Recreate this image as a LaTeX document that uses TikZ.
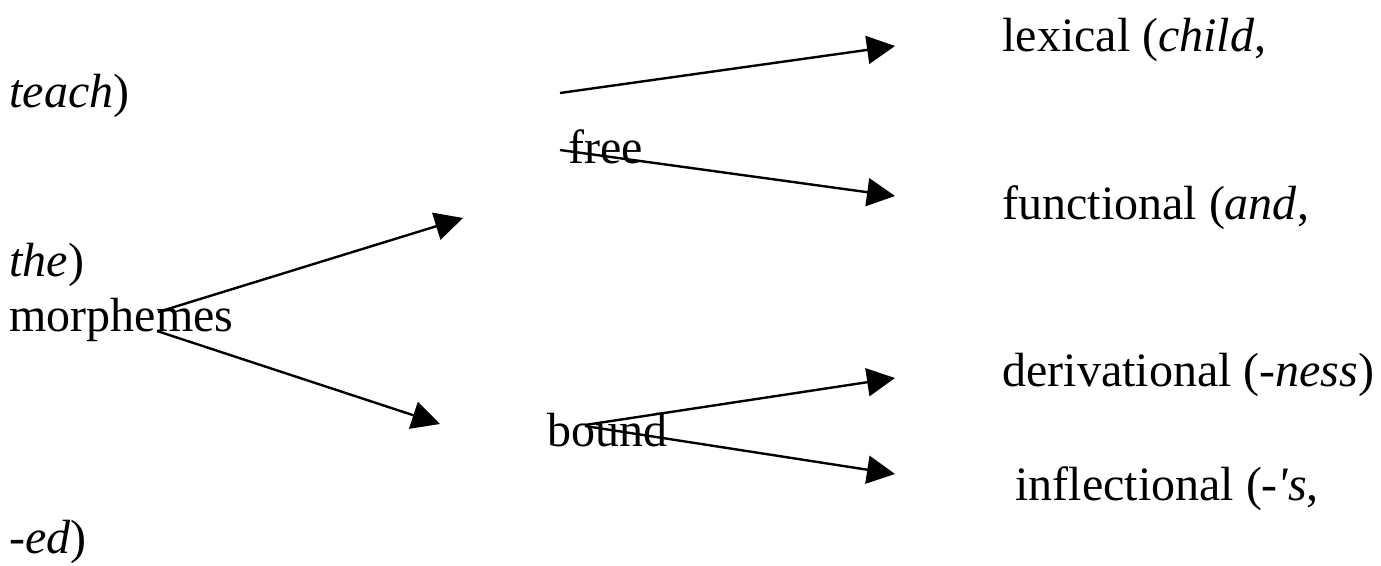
\documentclass[tikz,border=0pt]{standalone}
\usepackage{fontspec}
\setmainfont{Liberation Serif}
\newfontfamily\plainserif{Liberation Serif}
\usetikzlibrary{arrows.meta}

\begin{document}
\begin{tikzpicture}[x=0.5pt, y=-0.5pt,
  every node/.style={font=\fontsize{24}{28}\selectfont},
  word/.style={anchor=base west, inner sep=0pt},
  branch/.style={line width=1.2pt, -{Triangle[length=14pt, width=14pt]}}]
\useasboundingbox (0,0) rectangle (1381,566);

% Left column (wrapped lines)
\node[word] (teach) at (9,108) {\textit{teach})};
\node[word] (the) at (9,277) {\textit{the})};
\node[word] (morph) at (9,332) {morphemes};
\node[word] (ed) at (9,553) {\textit{-ed})};

% Middle column
\node[word] (free) at (568,164) {free};
\node[word] (bound) at (547,446) {bound};

% Right column
\node[word] (lexical) at (1002,52) {lexical (\textit{child},};
\node[word] (functional) at (1002,220) {functional (\textit{and},};
\node[word] (deriv) at (1002,387) {derivational (\textit{-ness})};
\node[word] (inflect) at (1015,500) {inflectional (\textit{-{\plainserif '}s},};

% morphemes -> free / bound
\draw[branch] ([shift={(149,-20)}]morph.base west) -- ([shift={(-105,54)}]free.base west);
\draw[branch] ([shift={(148,-1)}]morph.base west) -- ([shift={(-107,-22)}]bound.base west);

% free -> lexical / functional
\draw[branch] ([shift={(-8,-71)}]free.base west) -- ([shift={(-107,-6)}]lexical.base west);
\draw[branch] ([shift={(-8,-14)}]free.base west) -- ([shift={(-107,-24)}]functional.base west);

% bound -> derivational / inflectional
\draw[branch] ([shift={(38,-21)}]bound.base west) -- ([shift={(-107,-9)}]deriv.base west);
\draw[branch] ([shift={(38,-20)}]bound.base west) -- ([shift={(-120,-26)}]inflect.base west);
\end{tikzpicture}
\end{document}
